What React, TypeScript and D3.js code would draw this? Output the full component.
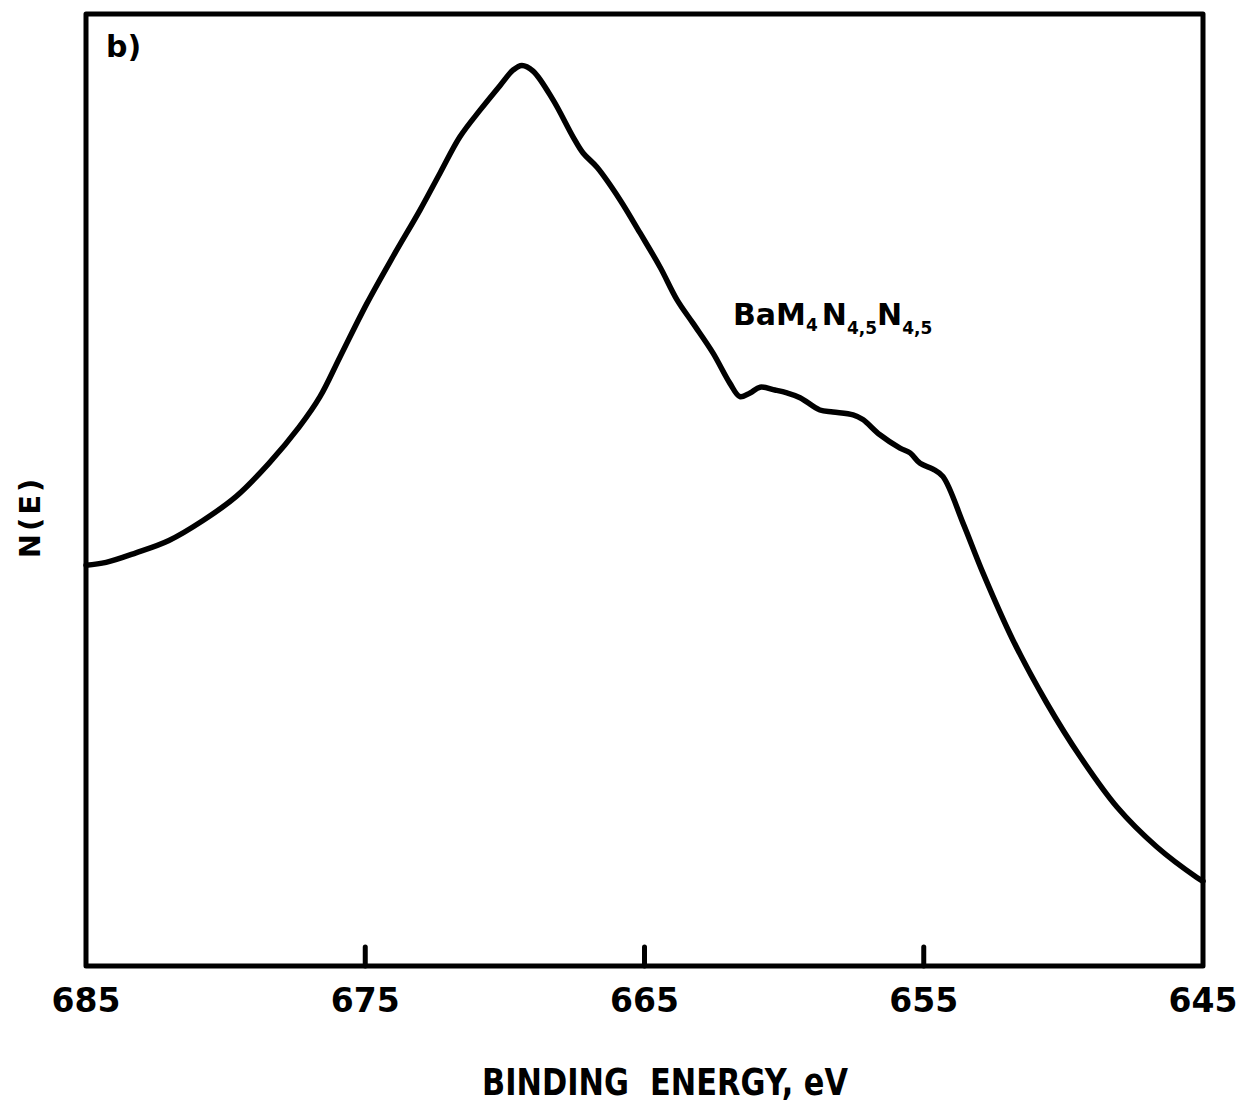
import React from "react";
import * as d3 from "d3";

// Ba M4N45N45 Auger region, N(E) vs binding energy (arbitrary intensity units)
const energy = [
  685.0, 684.28, 683.21, 682.03, 680.81, 679.63, 678.45, 677.37, 676.62, 675.9, 674.94, 674.01,
  673.04, 672.32, 671.61, 670.89, 670.17, 669.71, 669.39, 668.99, 668.28, 667.56, 667.2, 666.7,
  665.88, 665.16, 664.44, 663.84, 663.26, 662.55, 661.94, 661.58, 661.22, 660.86, 660.33, 659.9,
  659.43, 658.72, 658.25, 657.53, 657.18, 656.57, 655.85, 655.49, 655.13, 654.67, 654.31, 653.59,
  652.88, 651.8, 650.59, 649.4, 648.08, 646.65, 645.22, 645.0,
];
const intensity = [
  42.1, 42.4, 43.4, 44.7, 46.8, 49.3, 52.8, 56.6, 59.8, 64.0, 69.6, 74.5,
  79.4, 83.3, 87.1, 89.9, 92.5, 94.1, 94.6, 94.0, 91.0, 87.1, 85.4, 83.9,
  80.5, 77.0, 73.4, 70.0, 67.5, 64.4, 61.2, 59.8, 60.2, 60.8, 60.5, 60.2,
  59.7, 58.4, 58.2, 57.9, 57.4, 55.8, 54.4, 53.9, 52.8, 52.2, 51.4, 46.5,
  41.3, 34.2, 27.6, 22.0, 16.7, 12.5, 9.3, 8.9,
];
const xTicks = [685, 675, 665, 655, 645];

const W = 1238;
const H = 1103;
const left = 86;
const right = 1203;
const top = 14;
const bottom = 966;
const FONT = "'DejaVu Sans', Verdana, sans-serif";

export default function App() {
  const x = d3.scaleLinear().domain([685, 645]).range([left, right]);
  const y = d3.scaleLinear().domain([0, 100]).range([bottom, top]);
  const pts = energy.map((e, i) => [e, intensity[i]] as [number, number]);
  const line = d3
    .line<[number, number]>()
    .x((d) => x(d[0]))
    .y((d) => y(d[1]))
    .curve(d3.curveCatmullRom.alpha(0.5));

  return (
    <svg
      width={W}
      height={H}
      style={{ position: "absolute", left: 0, top: 0, display: "block", background: "#fff" }}
    >
      <rect x={0} y={0} width={W} height={H} fill="#fff" />
      {/* plot frame */}
      <rect
        x={left}
        y={top}
        width={right - left}
        height={bottom - top}
        fill="none"
        stroke="#000"
        strokeWidth={5}
        strokeLinejoin="round"
      />
      {/* ticks along the energy axis */}
      {xTicks.map((t) => (
        <g key={t}>
          {t !== 685 && t !== 645 && (
            <line x1={x(t)} x2={x(t)} y1={bottom} y2={bottom - 19} stroke="#000" strokeWidth={5} strokeLinecap="round" />
          )}
          <text
            x={x(t)}
            y={1012}
            textAnchor="middle"
            fontFamily={FONT}
            fontWeight="bold"
            fontSize={33}
            fill="#000"
          >
            {t}
          </text>
        </g>
      ))}
      {/* spectrum */}
      <path d={line(pts) ?? ""} fill="none" stroke="#000" strokeWidth={5.5} strokeLinejoin="round" strokeLinecap="round" />
      {/* axis titles */}
      <text
        x={482}
        y={1095}
        fontFamily={FONT}
        fontWeight="bold"
        fontSize={37}
        fill="#000"
        textLength={366}
        lengthAdjust="spacingAndGlyphs"
        style={{ whiteSpace: "pre" }}
      >
        {"BINDING  ENERGY, eV"}
      </text>
      <text
        transform="translate(40,517) rotate(-90)"
        textAnchor="middle"
        fontFamily={FONT}
        fontWeight="bold"
        fontSize={29}
        letterSpacing={3}
        fill="#000"
      >
        N(E)
      </text>
      {/* panel tag */}
      <text x={106} y={57} fontFamily={FONT} fontWeight="bold" fontSize={30} fill="#000">
        b)
      </text>
      {/* transition label */}
      <text x={733} y={325} fontFamily={FONT} fontWeight="bold" fontSize={30} fill="#000">
        <tspan>BaM</tspan>
        <tspan fontSize={17} dy={6}>4</tspan>
        <tspan dy={-6} dx={4}>N</tspan>
        <tspan fontSize={17} dy={9}>4,5</tspan>
        <tspan dy={-9}>N</tspan>
        <tspan fontSize={17} dy={9}>4,5</tspan>
      </text>
    </svg>
  );
}
